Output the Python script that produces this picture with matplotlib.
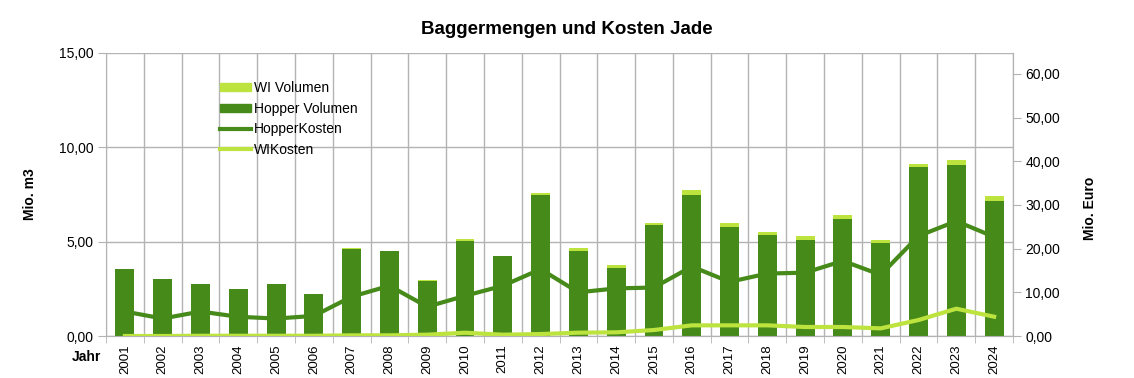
import numpy as np
import matplotlib
matplotlib.use("Agg")
import matplotlib.pyplot as plt
from matplotlib.ticker import FuncFormatter, FixedLocator
from matplotlib.patches import Patch
from matplotlib.lines import Line2D

plt.rcParams['font.family'] = ['Liberation Sans', 'DejaVu Sans']

# data
years = [str(y) for y in range(2001, 2025)]
hopper_vol = [3.53, 3.02, 2.74, 2.49, 2.77, 2.23, 4.62, 4.48, 2.93, 5.05, 4.26, 7.49,
              4.52, 3.62, 5.88, 7.49, 5.78, 5.35, 5.10, 6.20, 4.95, 8.96, 9.08, 7.15]
wi_vol = [0.0, 0.0, 0.0, 0.0, 0.0, 0.0, 0.03, 0.02, 0.04, 0.09, 0.0, 0.07,
          0.14, 0.13, 0.11, 0.23, 0.21, 0.18, 0.18, 0.23, 0.14, 0.15, 0.26, 0.27]
hopper_cost = [5.6, 4.0, 5.6, 4.4, 4.0, 4.6, 9.0, 11.5, 6.7, 9.2, 11.5, 15.3,
               10.0, 10.9, 11.1, 15.9, 12.4, 14.3, 14.5, 17.2, 14.0, 22.9, 26.3, 22.7]
wi_cost = [0.0, 0.0, 0.05, 0.05, 0.05, 0.05, 0.15, 0.15, 0.3, 0.75, 0.3, 0.45,
           0.76, 0.84, 1.37, 2.44, 2.44, 2.44, 2.06, 2.06, 1.75, 3.66, 6.25, 4.42]

dark = '#468a1a'
light = '#bde33f'
grid_c = '#b3b3b3'

fig = plt.figure(figsize=(11.34, 3.78), dpi=100)
ax = fig.add_axes([106 / 1134, 1 - 336 / 378, 907 / 1134, 283 / 378])
ax2 = ax.twinx()

x = np.arange(len(years))
ax.bar(x, hopper_vol, width=0.5, color=dark, zorder=3)
ax.bar(x, wi_vol, width=0.5, bottom=hopper_vol, color=light, zorder=3)

ax2.plot(x, hopper_cost, color=dark, lw=3, zorder=4)
ax2.plot(x, wi_cost, color=light, lw=3, zorder=4)

ax.set_xlim(-0.5, len(years) - 0.5)
ax.set_ylim(0, 15)
ax2.set_ylim(0, 64.8)
ax.set_yticks([0, 5, 10, 15])
ax2.set_yticks(range(0, 61, 10))
fmt = FuncFormatter(lambda v, p: f"{v:.2f}".replace('.', ','))
ax.yaxis.set_major_formatter(fmt)
ax2.yaxis.set_major_formatter(fmt)

ax.set_xticks(x)
ax.set_xticklabels(years, rotation=90, fontsize=9.5)
ax.tick_params(axis='x', which='major', length=0, pad=6)
ax.xaxis.set_minor_locator(FixedLocator(np.arange(-0.5, len(years), 1)))
ax.tick_params(axis='x', which='minor', length=5, color=grid_c)
ax.grid(True, which='minor', axis='x', color=grid_c, lw=1, zorder=0)
ax.grid(True, which='major', axis='y', color=grid_c, lw=1, zorder=0)
ax.set_axisbelow(True)

ax.tick_params(axis='y', length=6, color=grid_c, labelsize=10, pad=3)
ax2.tick_params(axis='y', length=6, color=grid_c, labelsize=10, pad=3)
for a in (ax, ax2):
    for s in a.spines.values():
        s.set_color(grid_c)
    a.spines['top'].set_visible(False)
ax.spines['left'].set_visible(False)

ax.set_ylabel('Mio. m3', fontsize=10, fontweight='bold')
ax.yaxis.set_label_coords(-0.076, 0.5)
ax2.set_ylabel('Mio. Euro', fontsize=10, fontweight='bold')
ax2.yaxis.set_label_coords(1.077, 0.45)
fig.text(72 / 1134, 1 - 357 / 378, 'Jahr', fontsize=10, fontweight='bold',
         ha='left', va='center')
fig.suptitle('Baggermengen und Kosten Jade', fontsize=13.5, fontweight='bold',
             y=1 - 30 / 378, va='center')

handles = [Patch(color=light), Patch(color=dark),
           Line2D([], [], color=dark, lw=3), Line2D([], [], color=light, lw=3)]
labels = ['WI Volumen', 'Hopper Volumen', 'HopperKosten', 'WIKosten']
leg = ax.legend(handles, labels, loc='upper left', bbox_to_anchor=(0.118, 0.925),
                frameon=False, fontsize=10, handlelength=2.2, handleheight=0.5,
                handletextpad=0.25, labelspacing=0.47, borderpad=0)
leg.set_zorder(10)

fig.savefig('out.png', dpi=100)
